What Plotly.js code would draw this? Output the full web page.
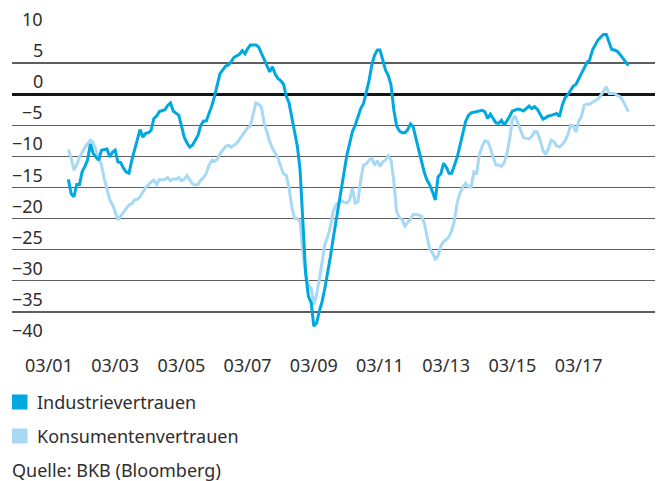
<!DOCTYPE html>
<html>
<head>
<meta charset="utf-8">
<script src="https://cdn.plot.ly/plotly-3.0.1.min.js"></script>
<style>
html,body{margin:0;padding:0;background:#ffffff;}
#chart{width:663px;height:481px;}
</style>
</head>
<body>
<div id="chart"></div>
<script>
// ---- data (monthly, first value = Oct 2001) ----
const firstYear = 2001;
const firstMonth = 10;

const industrievertrauen = [
-13.7,-16,-16.5,-14.5,-14.5,-12.5,-11.6,-10.6,-8.0,-9.5,-10.1,-10.6,-9,-8.9,-8.8,-10.1,-9.3,-9,-10.9,-11,
-11.9,-12.5,-12.7,-10.6,-9,-7.4,-5.7,-6.9,-6.3,-6.2,-5.8,-3.9,-3.5,-2.8,-2.6,-2.5,-1.8,-1.4,-2.7,-3.1,
-3.4,-5,-6.9,-7.8,-8.5,-8.2,-7.4,-6.6,-5,-4.3,-4.3,-3.1,-1.8,-0.4,1.7,3.3,3.9,4.5,4.7,5.2,
5.9,6.1,6.4,7.0,6.5,7.3,7.9,7.9,7.9,7.6,6.6,5.5,4.4,3.6,4.4,3.2,2.5,2.2,1.6,-0.3,
-1.4,-3.5,-5.8,-8.4,-12.2,-21.3,-28.8,-32.5,-33.6,-37.3,-36.8,-34.9,-33.3,-31.2,-28.8,-26.1,-23.2,-20.5,-18.1,-15.4,
-12.5,-9.8,-7.9,-6,-5,-3.6,-2.3,-1.5,0.1,2.2,4.7,6.3,7.1,7.1,5.5,3.9,3,1.5,-2.5,-5.1,
-5.9,-6.2,-6.2,-5.7,-4.8,-5.2,-7.1,-9,-10.9,-12.5,-13.8,-14.6,-15.7,-17,-13.3,-12.8,-11.1,-11.7,-12.7,-12.7,
-11.4,-10.1,-8.2,-6.2,-4.4,-3.4,-3,-2.9,-2.8,-2.7,-2.6,-2.8,-3.9,-3.2,-3.9,-4.6,-4.7,-4.2,-5,-4.3,
-3.5,-2.7,-2.5,-2.4,-2.5,-2.7,-2.3,-1.9,-2.3,-2,-2.4,-3.3,-4,-3.8,-3.5,-3.4,-3.3,-3.1,-3.6,-1.8,
-0.6,-0.1,0.6,1.3,1.6,2.5,3.3,4.2,5.1,5.5,7.1,8,8.7,9.2,9.6,9.6,8.3,7.2,7.1,6.9,
6.4,5.8,5.2,4.6
];

const konsumentenvertrauen = [
-8.9,-10.3,-12.2,-11.4,-10.1,-9.3,-8.6,-8,-7.4,-7.8,-9,-10.3,-11.4,-13.6,-15.4,-17,-17.8,-18.9,-20.2,-19.6,
-18.9,-18.4,-17.8,-17.6,-17,-16.9,-16.5,-15.7,-15,-14.6,-14.1,-13.8,-14.5,-13.7,-13.8,-13.7,-13.4,-13.9,-13.6,-13.7,
-13.4,-13.9,-13.7,-13.1,-13.7,-14.4,-14.6,-14.5,-13.8,-13.4,-12.7,-11.4,-10.6,-10.8,-10.5,-9.6,-9,-8.4,-8.2,-8.5,
-8.2,-7.9,-7.3,-6.6,-5.9,-5.4,-5.1,-3.1,-1.4,-1.6,-2.1,-4.7,-6.3,-7.6,-8.7,-9.4,-10.3,-11.6,-12.8,-13,
-15.1,-18.1,-20,-20,-20.5,-25.6,-28.8,-30.6,-31.2,-33.9,-32.2,-29.8,-26.6,-24.2,-22.9,-21.3,-18.9,-17.8,-17.5,-17.1,
-17.4,-17.5,-17,-15.1,-17.5,-17.3,-13.8,-11.4,-11.2,-10.6,-10.3,-11.4,-10.7,-11.6,-10.9,-10.6,-9.9,-10.6,-14,-18.9,
-19.8,-20.2,-21.2,-20.6,-20.1,-19.3,-19.3,-19.4,-19.6,-20.6,-22.9,-24.9,-25.5,-26.5,-26,-24.4,-23.7,-23.4,-22.9,-21.9,
-20.2,-17.4,-15.9,-14.9,-14.3,-14.9,-14.9,-12.5,-12.7,-9.8,-8.4,-7.5,-7.6,-8.6,-10.1,-11.4,-11.4,-11.6,-11,-9.5,
-7,-4.1,-3.5,-4.6,-5.6,-7,-7.1,-7.2,-6.8,-6,-6.1,-7.3,-9,-9.7,-8.8,-7.4,-7.6,-8.3,-8.5,-8.1,
-7.5,-6.6,-5,-5.1,-6.1,-4.4,-3.6,-1.8,-1.6,-1.6,-1.3,-1.1,-0.8,-0.2,0.6,1.2,0.1,0.1,0.1,-0.2,
-0.4,-1,-2,-2.8
];

const seriesNames = ['Industrievertrauen', 'Konsumentenvertrauen'];
const yTickValues = [10, 5, 0, -5, -10, -15, -20, -25, -30, -35, -40];
const yTickLabels = ['10', '5', '0', '\u22125', '\u221210', '\u221215', '\u221220', '\u221225', '\u221230', '\u221235', '\u221240'];
const xTickStart = '2001-03-01';
const xTickStep = 'M24';
const sourceText = 'Quelle: BKB (Bloomberg)';

// ---- styling ----
const darkBlue = '#00a8e1';
const lightBlue = '#a7d9f5';
const textColor = '#2e2e2e';
const fontFamily = '"Noto Sans", "Open Sans", sans-serif';
const fontSize = 18;
const W = 663, H = 481;
const M = {l: 12, r: 8, t: 32, b: 138};
const plotH = H - M.t - M.b;
function pyToPaper(py) { return (H - M.b - py) / plotH; }
function pxToPaper(px) { return (px - M.l) / (W - M.l - M.r); }

function monthDates(y, m, n) {
  const out = [];
  for (let i = 0; i < n; i++) {
    const mm = m - 1 + i;
    const yy = y + Math.floor(mm / 12);
    const mo = (mm % 12) + 1;
    out.push(yy + '-' + String(mo).padStart(2, '0') + '-01');
  }
  return out;
}
const dates = monthDates(firstYear, firstMonth, industrievertrauen.length);

const traces = [
  {x: dates, y: konsumentenvertrauen, name: seriesNames[1], type: 'scatter', mode: 'lines',
   line: {color: lightBlue, width: 3}, showlegend: false, hoverinfo: 'skip'},
  {x: dates, y: industrievertrauen, name: seriesNames[0], type: 'scatter', mode: 'lines',
   line: {color: darkBlue, width: 3}, showlegend: false, hoverinfo: 'skip'}
];

const annotations = yTickValues.map((v, i) => ({
  xref: 'paper', yref: 'y', x: pxToPaper(45), y: v, xanchor: 'right', yanchor: 'bottom',
  text: yTickLabels[i], showarrow: false, yshift: -1,
  font: {family: fontFamily, size: fontSize, color: textColor}
}));

const legendRows = [
  {name: seriesNames[0], color: darkBlue, cy: 402},
  {name: seriesNames[1], color: lightBlue, cy: 436}
];
const shapes = [];
legendRows.forEach(r => {
  shapes.push({type: 'rect', xref: 'paper', yref: 'paper',
    x0: pxToPaper(12), x1: pxToPaper(27.5), y0: pyToPaper(r.cy + 7.5), y1: pyToPaper(r.cy - 7.5),
    line: {width: 0}, fillcolor: r.color});
  annotations.push({xref: 'paper', yref: 'paper', x: pxToPaper(35), y: pyToPaper(r.cy),
    xanchor: 'left', yanchor: 'middle', text: r.name, showarrow: false,
    font: {family: fontFamily, size: fontSize, color: textColor}});
});
annotations.push({xref: 'paper', yref: 'paper', x: pxToPaper(10), y: pyToPaper(470),
  xanchor: 'left', yanchor: 'middle', text: sourceText, showarrow: false,
  font: {family: fontFamily, size: fontSize, color: textColor}});

const layout = {
  width: W, height: H,
  margin: M,
  paper_bgcolor: '#ffffff', plot_bgcolor: '#ffffff',
  showlegend: false,
  font: {family: fontFamily, size: fontSize, color: textColor},
  xaxis: {
    type: 'date', range: ['2000-01-18', '2019-06-22'],
    tick0: xTickStart, dtick: xTickStep, tickformat: '%m/%y',
    showgrid: false, zeroline: false, showline: false, ticks: '',
    ticklabelstandoff: 10,
    tickfont: {family: fontFamily, size: fontSize, color: textColor}
  },
  yaxis: {
    range: [-40, 10], tick0: 0, dtick: 5, showticklabels: false, ticks: '',
    showgrid: true, gridcolor: '#5e5e5e', gridwidth: 1.3,
    zeroline: true, zerolinecolor: '#151515', zerolinewidth: 2.6, showline: false
  },
  shapes: shapes,
  annotations: annotations
};

Plotly.newPlot('chart', traces, layout, {staticPlot: true, displayModeBar: false});
</script>
</body>
</html>
